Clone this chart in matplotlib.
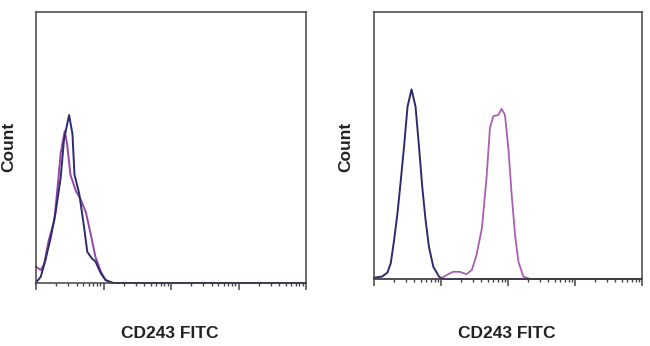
import numpy as np
import matplotlib
matplotlib.use("Agg")
import matplotlib.pyplot as plt

plt.rcParams['font.family'] = ['Liberation Sans', 'DejaVu Sans']

# x values are log10 decades of FITC intensity, y values are relative counts
left_blue_x = [0.0, 0.01, 0.07, 0.14, 0.22, 0.29, 0.366, 0.415, 0.49, 0.54, 0.57, 0.64, 0.71, 0.76,
               0.83, 0.88, 0.96, 1.03, 1.13, 4.0]
left_blue_y = [0.0, 0.005, 0.023, 0.085, 0.17, 0.26, 0.39, 0.53, 0.62, 0.55, 0.40, 0.33, 0.21, 0.115,
               0.09, 0.08, 0.036, 0.011, 0.0, 0.0]
left_purple_x = [0.0, 0.07, 0.12, 0.19, 0.27, 0.32, 0.366, 0.425, 0.46, 0.51, 0.59, 0.66, 0.74, 0.81,
                 0.88, 0.96, 1.03, 1.15, 4.0]
left_purple_y = [0.06, 0.048, 0.07, 0.16, 0.23, 0.355, 0.48, 0.56, 0.515, 0.40, 0.34, 0.31, 0.26, 0.18,
                 0.097, 0.042, 0.011, 0.0, 0.0]

right_blue_x = [0.0, 0.12, 0.20, 0.25, 0.30, 0.35, 0.40, 0.45, 0.50, 0.56, 0.62, 0.67, 0.72, 0.77,
                0.82, 0.885, 0.97, 1.02, 4.0]
right_blue_y = [0.005, 0.009, 0.024, 0.059, 0.146, 0.246, 0.37, 0.50, 0.645, 0.71, 0.645, 0.50, 0.345, 0.22,
                0.12, 0.046, 0.009, 0.0, 0.0]
right_purple_x = [0.0, 0.985, 1.085, 1.18, 1.28, 1.38, 1.46, 1.53, 1.61, 1.68, 1.73, 1.78, 1.855, 1.905,
                  1.955, 2.005, 2.055, 2.105, 2.155, 2.23, 2.33, 4.0]
right_purple_y = [0.0, 0.0, 0.015, 0.027, 0.027, 0.018, 0.034, 0.09, 0.19, 0.38, 0.565, 0.61, 0.614, 0.637,
                  0.614, 0.49, 0.315, 0.165, 0.065, 0.009, 0.0, 0.0]

x_label = "CD243 FITC"
y_label = "Count"

blue = '#2b2b6e'
purple = '#9446a6'
purple_light = '#a860b0'
axis_col = '#444444'


def style_axes(ax):
    ax.set_xlim(0, 4)
    ax.set_ylim(0, 1)
    for s in ax.spines.values():
        s.set_color(axis_col)
        s.set_linewidth(1.1)
    majors = np.arange(0, 5)
    minors = [k + np.log10(m) for k in range(4) for m in range(2, 10)]
    ax.set_xticks(majors)
    ax.set_xticks(minors, minor=True)
    ax.set_xticklabels([])
    ax.set_yticks([])
    ax.tick_params(axis='x', which='major', direction='out', length=5, width=1.1, color=axis_col)
    ax.tick_params(axis='x', which='minor', direction='out', length=2.5, width=1.0, color=axis_col)


fig = plt.figure(figsize=(6.5, 3.46), dpi=100)
ax1 = fig.add_axes([0.0554, 0.182, 0.4154, 0.783])
ax2 = fig.add_axes([0.5754, 0.1936, 0.4123, 0.772])

ax1.plot(left_purple_x, left_purple_y, color=purple, lw=1.4, clip_on=False, solid_joinstyle='round')
ax1.plot(left_blue_x, left_blue_y, color=blue, lw=1.4, clip_on=False, solid_joinstyle='round')
ax2.plot(right_purple_x, right_purple_y, color=purple_light, lw=1.3, clip_on=False, solid_joinstyle='round')
ax2.plot(right_blue_x, right_blue_y, color=blue, lw=1.4, clip_on=False, solid_joinstyle='round')

for ax in (ax1, ax2):
    style_axes(ax)

fig.text(170 / 650, 1 - 334 / 346, x_label, ha='center', va='center', fontsize=12.5, fontweight='bold', color='#222222')
fig.text(507 / 650, 1 - 334 / 346, x_label, ha='center', va='center', fontsize=12.5, fontweight='bold', color='#222222')
fig.text(9 / 650, 1 - 147 / 346, y_label, ha='center', va='center', rotation=90, fontsize=12.5, fontweight='bold', color='#222222')
fig.text(346 / 650, 1 - 147 / 346, y_label, ha='center', va='center', rotation=90, fontsize=12.5, fontweight='bold', color='#222222')

fig.savefig('out.png', dpi=100, facecolor='white')
